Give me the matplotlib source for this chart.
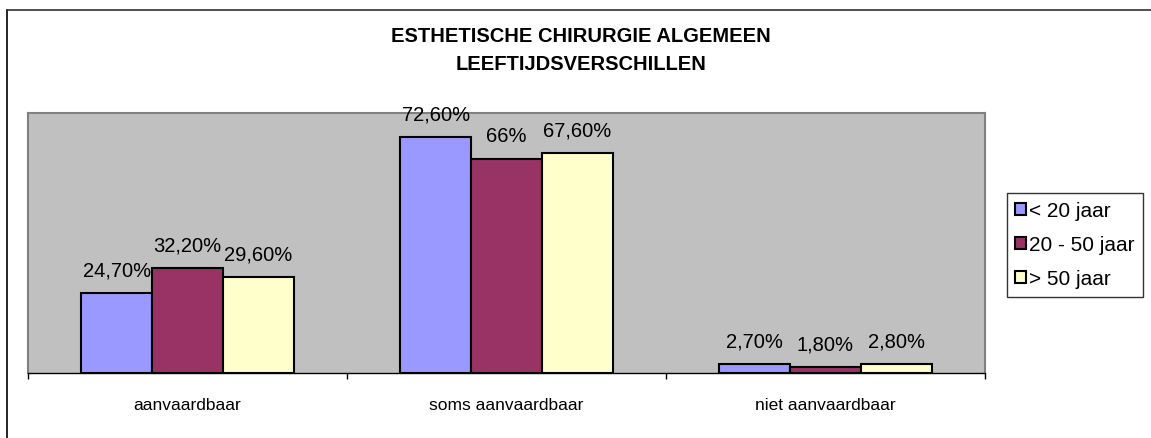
import matplotlib
matplotlib.use("Agg")
import matplotlib.pyplot as plt
from matplotlib.lines import Line2D
import numpy as np

plt.rcParams['font.family'] = ['Liberation Sans', 'DejaVu Sans']

categories = ["aanvaardbaar", "soms aanvaardbaar", "niet aanvaardbaar"]
series_names = ["< 20 jaar", "20 - 50 jaar", "> 50 jaar"]
under_20 = [24.7, 72.6, 2.7]
between_20_50 = [32.2, 66.0, 1.8]
over_50 = [29.6, 67.6, 2.8]
value_labels = [["24,70%", "72,60%", "2,70%"],
                ["32,20%", "66%", "1,80%"],
                ["29,60%", "67,60%", "2,80%"]]
title_lines = ["ESTHETISCHE CHIRURGIE ALGEMEEN", "LEEFTIJDSVERSCHILLEN"]

colors = ["#9999FF", "#993366", "#FFFFCC"]
series = [under_20, between_20_50, over_50]

W, H = 1151, 439
fig = plt.figure(figsize=(W / 100, H / 100), dpi=100)
fig.patch.set_facecolor("white")

# outer chart border (top and left visible)
fig.add_artist(Line2D([7 / W, 7 / W], [0, 1 - 11 / H], color="black", lw=1.2,
                      transform=fig.transFigure))
fig.add_artist(Line2D([7 / W, 1], [1 - 11 / H, 1 - 11 / H], color="#303030", lw=1.2,
                      transform=fig.transFigure))

left, right, top, bottom = 28, 985, 114, 374
ax = fig.add_axes([left / W, 1 - bottom / H, (right - left) / W, (bottom - top) / H])
ax.set_facecolor("#C0C0C0")

x = np.arange(len(categories))
bw = 1 / 4.5
for i, (vals, col, name) in enumerate(zip(series, colors, series_names)):
    pos = x + (i - 1) * bw
    bars = ax.bar(pos, vals, width=bw, color=col, edgecolor="black", linewidth=1.5,
                  label=name, zorder=3)
    for b, v, lab in zip(bars, vals, value_labels[i]):
        ax.annotate(lab, (b.get_x() + b.get_width() / 2, v), xytext=(0, 12.5),
                    textcoords="offset points", ha="center", va="baseline",
                    fontsize=14.5, zorder=4, annotation_clip=False)

ax.set_xlim(-0.5, 2.5)
ax.set_ylim(0, 80)
ax.set_yticks([])
ax.set_xticks(x)
ax.set_xticklabels(categories, fontsize=12.5)
ax.tick_params(axis="x", which="major", length=0, pad=17)
ax.set_xticks([-0.5, 0.5, 1.5, 2.5], minor=True)
ax.tick_params(axis="x", which="minor", length=4, width=1, direction="out", color="black")

for s in ["top", "left", "right"]:
    ax.spines[s].set_color("#808080")
    ax.spines[s].set_linewidth(1.5)
ax.spines["bottom"].set_color("black")
ax.spines["bottom"].set_linewidth(1)
ax.spines["bottom"].set_zorder(5)

fig.text(581 / W, 1 - 37 / H, title_lines[0], ha="center", va="center",
         fontsize=14.5, fontweight="bold")
fig.text(581 / W, 1 - 64 / H, title_lines[1], ha="center", va="center",
         fontsize=14.5, fontweight="bold")

leg = fig.legend(loc="upper left", bbox_to_anchor=(1007 / W, 1 - 194 / H),
                 bbox_transform=fig.transFigure, fontsize=15, frameon=True,
                 fancybox=False, edgecolor="black", handlelength=0.5, handleheight=0.5,
                 handletextpad=0.15, labelspacing=0.72, borderpad=0.4, borderaxespad=0)
leg.get_frame().set_linewidth(1)
for h in leg.legend_handles:
    h.set_linewidth(1.5)

fig.savefig("out.png", dpi=100, facecolor="white")
